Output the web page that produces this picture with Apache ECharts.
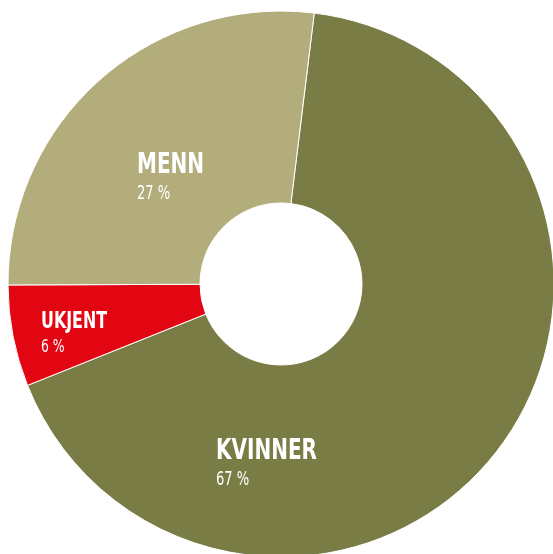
<!DOCTYPE html>
<html style="height: 100%">
<head>
    <meta charset="utf-8">
</head>
<body style="height: 100%; margin: 0; background: #fff">
<div id="container" style="width: 553px; height: 554px"></div>
<script type="text/javascript" src="https://cdn.jsdelivr.net/npm/echarts@6/dist/echarts.min.js"></script>
<script type="text/javascript">
    var categories = ['KVINNER', 'UKJENT', 'MENN'];
    var values = [67, 6, 27];
    var colors = ['#797c45', '#e20613', '#b2ad7a'];

    var dom = document.getElementById("container");
    var myChart = echarts.init(dom);

    var font = '"DejaVu Sans", sans-serif';

    // label placement inside each slice (left aligned, as in the original)
    var labelPos = {
        'KVINNER': {x: 216, y: 437, big: 29, small: 19},
        'UKJENT': {x: 41, y: 311, big: 23, small: 18},
        'MENN': {x: 137, y: 151, big: 29, small: 19}
    };

    var graphics = categories.map(function (name, i) {
        var p = labelPos[name];
        return {
            type: 'text',
            left: p.x,
            top: p.y,
            z: 100,
            scaleX: 0.69,
            style: {
                text: '{a|' + name + '}\n{b|' + values[i] + ' %}',
                rich: {
                    a: {fontFamily: font, fontWeight: 'bold', fontSize: p.big, fill: '#fff', lineHeight: p.big + 5},
                    b: {fontFamily: font, fontWeight: 'normal', fontSize: p.small, fill: '#fff', lineHeight: p.small + 4}
                }
            }
        };
    });

    var option = {
        animation: false,
        graphic: graphics,
        series: [
            {
                type: 'pie',
                z: 1,
                center: [281, 284],
                radius: [81, 273],
                startAngle: 83,
                clockwise: true,
                label: {show: false},
                labelLine: {show: false},
                itemStyle: {borderColor: '#fff', borderWidth: 1},
                data: categories.map(function (name, i) {
                    return {name: name, value: values[i], itemStyle: {color: colors[i]}};
                })
            }
        ]
    };
    myChart.setOption(option, true);
</script>
</body>
</html>
